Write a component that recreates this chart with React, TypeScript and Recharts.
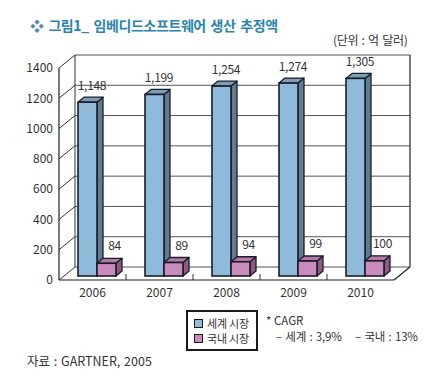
import { BarChart, Bar, XAxis, YAxis, CartesianGrid, LabelList } from "recharts";

const years = ["2006", "2007", "2008", "2009", "2010"];
const worldMarket = [1148, 1199, 1254, 1274, 1305];
const domesticMarket = [84, 89, 94, 99, 100];
const yTicks = [0, 200, 400, 600, 800, 1000, 1200, 1400];

const data = years.map((year, i) => ({
  year,
  world: worldMarket[i],
  domestic: domesticMarket[i],
}));

// depth of the 3d box (back wall offset) and of the bars inside it
const DX = 16;
const DY = -13;
const BX = 4;
const BY = -4;
const SX = 6;
const SY = -5;

const FONT = '"Noto Sans CJK KR", "Noto Sans", sans-serif';
const TEXT = "#333";
const BLUE = { front: "#8fbad9", side: "#5d7d93", top: "#7b9fb8" };
const PINK = { front: "#c98bbb", side: "#8e5a83", top: "#b07ba4" };

const makeBox = (c: typeof BLUE) => (props: any) => {
  const { x, y, width: w, height: h } = props;
  if (h == null || h <= 0) return null;
  const bx = x + BX;
  const by = y + BY;
  const stroke = "#1c1c2a";
  return (
    <g>
      <polygon
        points={`${bx + w},${by} ${bx + w + SX},${by + SY} ${bx + w + SX},${by + h + SY} ${bx + w},${by + h}`}
        fill={c.side}
        stroke={stroke}
        strokeWidth={1.3}
        strokeLinejoin="round"
      />
      <polygon
        points={`${bx},${by} ${bx + SX},${by + SY} ${bx + w + SX},${by + SY} ${bx + w},${by}`}
        fill={c.top}
        stroke={stroke}
        strokeWidth={1.3}
        strokeLinejoin="round"
      />
      <rect x={bx} y={by} width={w} height={h} fill={c.front} stroke={stroke} strokeWidth={1.6} />
    </g>
  );
};

const valueLabel = (dx: number, dy: number) => (props: any) => {
  const { x, y, width, value } = props;
  return (
    <text
      x={x + width / 2 + dx}
      y={y + dy}
      textAnchor="middle"
      fontSize={12}
      fill={TEXT}
      fontFamily={FONT}
      letterSpacing={-0.3}
    >
      {Number(value).toLocaleString("en-US")}
    </text>
  );
};

// back wall line + left side wall diagonal for each y tick
const gridLine = (p: any) => {
  const { x1, x2, y1, key } = p;
  return (
    <g key={key}>
      <line x1={x1 + DX} y1={y1 + DY} x2={x2 + DX} y2={y1 + DY} stroke="#555" strokeWidth={1} />
      <line x1={x1} y1={y1} x2={x1 + DX} y2={y1 + DY} stroke="#333" strokeWidth={1} />
    </g>
  );
};

// back wall edges + category separators on the floor
const wallLine = (p: any) => {
  const { x1, y1, y2, key, index } = p;
  if (index === 0) {
    return <line key={key} x1={x1 + DX} y1={y1 + DY} x2={x1 + DX} y2={y2 + DY} stroke="#333" strokeWidth={1} />;
  }
  if (index === years.length) {
    return (
      <g key={key}>
        <line x1={x1 + DX} y1={y1 + DY} x2={x1 + DX} y2={y2 + DY} stroke="#222" strokeWidth={1.2} />
        <line x1={x1} y1={y2} x2={x1 + DX} y2={y2 + DY} stroke="#222" strokeWidth={1.2} />
      </g>
    );
  }
  return <line key={key} x1={x1} y1={y2} x2={x1} y2={y2 - 6} stroke="#333" strokeWidth={1} />;
};

export default function App() {
  return (
    <div
      style={{
        position: "absolute",
        left: 0,
        top: 0,
        width: 435,
        height: 384,
        background: "#fff",
        fontFamily: FONT,
        color: TEXT,
      }}
    >
      <div
        style={{
          position: "absolute",
          left: 30,
          top: 15,
          fontSize: 14,
          fontWeight: 700,
          color: "#2a85ad",
          letterSpacing: -0.4,
          wordSpacing: 2,
          whiteSpace: "nowrap",
          lineHeight: "20px",
        }}
      >
        <span style={{ color: "#5a8aa6" }}>❖</span> 그림1_ 임베디드소프트웨어 생산 추정액
      </div>
      <div
        style={{
          position: "absolute",
          left: 333,
          top: 32,
          fontSize: 12,
          letterSpacing: -0.3,
          wordSpacing: 1,
          whiteSpace: "nowrap",
          lineHeight: "16px",
        }}
      >
        (단위 : 억 달러)
      </div>

      <BarChart
        width={435}
        height={384}
        data={data}
        margin={{ top: 68, right: 41, bottom: 74, left: 19 }}
        barSize={19}
        barGap={0}
      >
        <CartesianGrid
          horizontal={gridLine}
          vertical={wallLine}
          verticalCoordinatesGenerator={({ offset }: any) =>
            Array.from({ length: years.length + 1 }, (_, k) => offset.left + (offset.width * k) / years.length)
          }
        />
        <XAxis
          dataKey="year"
          height={30}
          tickSize={0}
          tickMargin={8}
          tickLine={false}
          axisLine={{ stroke: "#222", strokeWidth: 1.2 }}
          tick={{ fontSize: 12, fill: TEXT, fontFamily: FONT }}
        />
        <YAxis
          width={40}
          domain={[0, 1400]}
          ticks={yTicks}
          interval={0}
          tickSize={0}
          tickMargin={6}
          tickLine={false}
          axisLine={{ stroke: "#222", strokeWidth: 1.2 }}
          tick={{ fontSize: 12, fill: TEXT, fontFamily: FONT }}
        />
        <Bar dataKey="world" name="세계 시장" fill={BLUE.front} shape={makeBox(BLUE)} isAnimationActive={false}>
          <LabelList dataKey="world" content={valueLabel(8.5, -16)} />
        </Bar>
        <Bar dataKey="domestic" name="국내 시장" fill={PINK.front} shape={makeBox(PINK)} isAnimationActive={false}>
          <LabelList dataKey="domestic" content={valueLabel(12, -17)} />
        </Bar>
      </BarChart>

      <div
        style={{
          position: "absolute",
          left: 186,
          top: 310,
          width: 68,
          height: 37,
          border: "2px solid #1a1a1a",
          fontSize: 11,
          letterSpacing: -0.2,
        }}
      >
        {[
          { name: "세계 시장", color: BLUE.front },
          { name: "국내 시장", color: PINK.front },
        ].map((s, i) => (
          <div
            key={s.name}
            style={{
              position: "absolute",
              left: 6,
              top: 5 + i * 15,
              height: 13,
              display: "flex",
              alignItems: "center",
              whiteSpace: "nowrap",
            }}
          >
            <span
              style={{
                display: "inline-block",
                width: 7,
                height: 7,
                background: s.color,
                border: "1.3px solid #1a1a1a",
                marginRight: 4,
              }}
            />
            <span style={{ lineHeight: "13px" }}>{s.name}</span>
          </div>
        ))}
      </div>

      <div
        style={{ position: "absolute", left: 266, top: 313, fontSize: 11.5, whiteSpace: "nowrap", lineHeight: "15px" }}
      >
        * CAGR
      </div>
      <div
        style={{
          position: "absolute",
          left: 276,
          top: 329,
          fontSize: 11.5,
          whiteSpace: "nowrap",
          letterSpacing: -0.2,
          wordSpacing: 1,
          lineHeight: "15px",
        }}
      >
        – 세계 : 3,9%&nbsp;&nbsp;&nbsp; – 국내 : 13%
      </div>
      <div
        style={{
          position: "absolute",
          left: 27,
          top: 353,
          fontSize: 12.5,
          whiteSpace: "nowrap",
          wordSpacing: 1,
          lineHeight: "16px",
        }}
      >
        자료 : GARTNER, 2005
      </div>
    </div>
  );
}
